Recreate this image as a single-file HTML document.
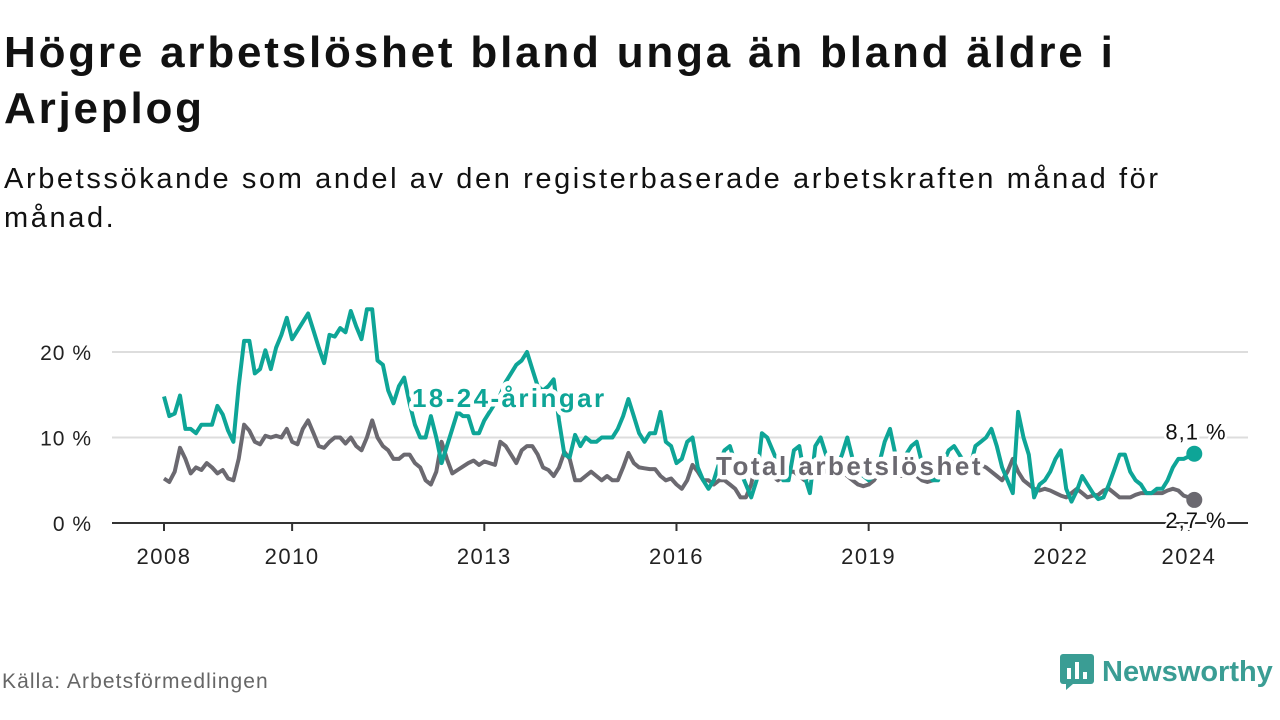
<!DOCTYPE html>
<html><head><meta charset="utf-8">
<style>
body{margin:0;width:1280px;height:720px;background:#fff;font-family:"Liberation Sans",sans-serif;overflow:hidden;position:relative;color:#111}
h1{position:absolute;left:4px;top:25px;margin:0;font-size:44px;letter-spacing:2.8px;line-height:56px;font-weight:bold;color:#111;white-space:nowrap}
.sub{position:absolute;left:4px;top:160px;font-size:29px;letter-spacing:2.6px;line-height:39px;color:#111;white-space:nowrap}
.src{position:absolute;left:2px;top:670px;font-size:21px;letter-spacing:1.1px;color:#666}
.logo{position:absolute;left:1060px;top:654px;display:flex;align-items:center;gap:8px;color:#3a9d94;font-size:29px;font-weight:bold}
svg{position:absolute;left:0;top:0}
</style></head><body>
<h1>Högre arbetslöshet bland unga än bland äldre i<br>Arjeplog</h1>
<div class="sub">Arbetssökande som andel av den registerbaserade arbetskraften månad för<br>månad.</div>
<div class="src">Källa: Arbetsförmedlingen</div>
<div class="logo">
<svg width="34" height="36" viewBox="0 0 34 36" style="position:static"><rect x="0" y="0" width="34" height="30" rx="3" fill="#3a9d94"/><path d="M6 30 L6 36 L13 30Z" fill="#3a9d94"/><rect x="7" y="14" width="4" height="11" fill="#fff"/><rect x="15" y="8" width="4" height="17" fill="#fff"/><rect x="23" y="18" width="4" height="7" fill="#fff"/></svg>
<span>Newsworthy</span></div>
<svg id="chart" width="1280" height="720"></svg>
<script>
const startYear = 2008;
const xTicks = [2008, 2010, 2013, 2016, 2019, 2022, 2024];
const yTicks = [0, 10, 20];
const youth = [
14.8,12.5,12.8,14.9,11,11,10.5,11.5,11.5,11.5,13.7,12.7,
10.8,9.5,16,21.3,21.3,17.5,18,20.2,18,20.5,22,24,
21.5,22.5,23.5,24.5,22.5,20.5,18.7,22,21.8,22.8,22.3,24.8,
23,21.5,25,25,19,18.5,15.5,14,16,17,14,11.5,
10,10,12.5,10,7,9,11,13,12.5,12.5,10.5,10.5,
12,13,14,15,16.5,17.5,18.5,19,20,18,16,15.5,
16,16.8,12,8,7.7,10.3,9,10,9.5,9.5,10,10,
10,11,12.5,14.5,12.5,10.5,9.5,10.5,10.5,13,9.5,9,
7,7.5,9.5,10,6.5,5,4,5,7,8.5,9,7,
6,4.5,3,5,10.5,10,8.5,7,5,5,8.5,9,
5.5,3.5,9,10,8,7,6.5,8,10,7.5,6,5.5,
5,5.5,7,9.5,11,8,6,8,9,9.5,7,6,
5,5,7,8.5,9,8,7,6.5,9,9.5,10,11,
9,6.5,5,3.5,13,10,8,3,4.5,5,6,7.5,
8.5,4,2.5,3.8,5.5,4.5,3.5,2.8,3,4.5,6.2,8,
8,6,5,4.5,3.5,3.5,4,4,5,6.5,7.5,7.5,
7.8,8.1];
const total = [
5.2,4.8,6,8.8,7.5,5.8,6.5,6.2,7,6.5,5.8,6.2,
5.2,5,7.5,11.5,10.8,9.5,9.2,10.2,10,10.2,10,11,
9.5,9.2,11,12,10.5,9,8.8,9.5,10,10,9.3,10,
9,8.5,10,12,10,9,8.5,7.5,7.5,8,8,7,
6.5,5,4.5,6,9.5,7.5,5.8,6.2,6.6,7,7.3,6.8,
7.2,7,6.8,9.5,9,8,7,8.5,9,9,8,6.5,
6.2,5.5,6.5,8.3,7.5,5,5,5.5,6,5.5,5,5.5,
5,5,6.5,8.2,7,6.5,6.4,6.3,6.3,5.5,5,5.2,
4.5,4,5,6.8,6,5,5,4.5,5,5,4.5,4,
3,3,4.5,7.5,7,6,5.5,5,5.5,6,6,5.5,
5,5.5,6,6.5,6,5.5,5.5,6,5.5,5,4.5,4.3,
4.5,5,6,6.5,6,5.5,5.5,5.5,6,5.5,5,4.8,
5,6,7,7.5,7,6.5,6,6,6.5,6.8,6.5,6,
5.5,5,6,7.5,6,5,4.5,4,3.8,4,3.8,3.5,
3.2,3,3.5,4,3.5,3,3.2,3.3,3.8,4,3.5,3,
3,3,3.3,3.5,3.5,3.5,3.5,3.5,3.8,4,3.8,3.2,
3,2.7];
const NS='http://www.w3.org/2000/svg';
const svg=document.getElementById('chart');
const x=t=>164+(t-startYear)*64.06;
const y=v=>523-v*8.55;
function mk(tag,attrs){const e=document.createElementNS(NS,tag);for(const k in attrs)e.setAttribute(k,attrs[k]);svg.appendChild(e);return e;}
yTicks.forEach(v=>{
  if(v>0){const g=mk('line',{x1:112,x2:1248,y1:y(v),y2:y(v),stroke:'#ddd','stroke-width':2});
  
  }
  const t=mk('text',{x:92,y:y(v)+8,'text-anchor':'end','font-size':21,'letter-spacing':1,fill:'#222','font-family':'Liberation Sans, sans-serif'});
  t.textContent=v+' %';
  
  
});
const ax=mk('line',{x1:112,x2:1248,y1:523,y2:523,stroke:'#333','stroke-width':2});


xTicks.forEach(yr=>{
  const l=mk('line',{x1:x(yr),x2:x(yr),y1:523,y2:531,stroke:'#333','stroke-width':2});
  
  
  const t=mk('text',{x:x(yr),y:564,'text-anchor':'middle','font-size':22,'letter-spacing':1.5,fill:'#222','font-family':'Liberation Sans, sans-serif'});
  t.textContent=yr;
  
  
});
function series(arr,color,name){
  const d=arr.map((v,i)=>(i?'L':'M')+x(startYear+i/12).toFixed(1)+' '+y(v).toFixed(1)).join(' ');
  const p=mk('path',{d:d,fill:'none',stroke:color,'stroke-width':4,'stroke-linejoin':'round'});
  
  
  const n=arr.length-1;
  const c=mk('circle',{cx:x(startYear+n/12),cy:y(arr[n]),r:8,fill:color});
  
  
}
series(total,'#6b6970','total');
series(youth,'#0ea597','youth');
function label(txt,xx,yy,color,size,bold,name,anchor,ls,sw){
  const t=mk('text',{x:xx,y:yy,'text-anchor':anchor||'start','font-size':size,'letter-spacing':ls||0,'font-weight':bold?'bold':'normal',fill:color,stroke:'#fff','stroke-width':sw||5,'paint-order':'stroke','stroke-linejoin':'round','font-family':'Liberation Sans, sans-serif'});
  t.textContent=txt;
  
  
}
label('18-24-åringar',412,407,'#0ea597',26,true,'youth-series-label','start',2.4,9);
label('Total arbetslöshet',716,475,'#6b6970',26,true,'total-series-label','start',2.5,9);
const nY=youth.length-1, nT=total.length-1;
label(String(youth[nY]).replace('.',',')+' %',1196,y(youth[nY])-14,'#111',22,false,'youth-end-value','middle',1);
label(String(total[nT]).replace('.',',')+' %',1196,y(total[nT])+28,'#111',22,false,'total-end-value','middle',1);
</script>
</body></html>
